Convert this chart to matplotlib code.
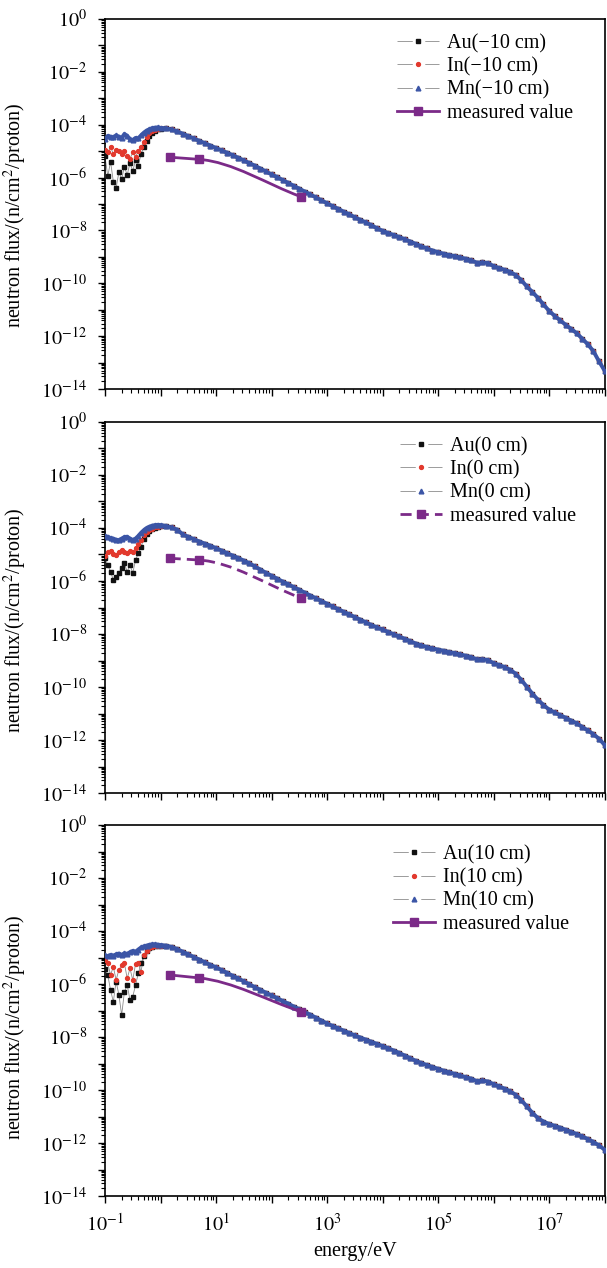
import numpy as np
import matplotlib
matplotlib.use("Agg")
import matplotlib.pyplot as plt
from matplotlib.path import Path
from matplotlib.patches import PathPatch
from matplotlib.lines import Line2D
from matplotlib.legend_handler import HandlerTuple
from matplotlib.ticker import LogLocator, FuncFormatter, NullFormatter

plt.rcParams['font.family'] = ['Liberation Serif', 'DejaVu Serif']
plt.rcParams['mathtext.fontset'] = 'stix'

# ---------------- data (log10 values) ----------------
# log10(energy / eV) of the low-energy (resonance) region
log_e_low = [-1.00, -0.95, -0.90, -0.85, -0.80, -0.75, -0.70, -0.65, -0.60, -0.55, -0.50,
             -0.45, -0.40, -0.35, -0.30, -0.25, -0.20, -0.15, -0.10, -0.05, 0.00]
# log10(energy / eV) above 1 eV
log_e_high = [0.1, 0.2, 0.3, 0.4, 0.5, 0.6, 0.7, 0.8, 0.9, 1.0,
              1.1, 1.2, 1.3, 1.4, 1.5, 1.6, 1.7, 1.8, 1.9, 2.0,
              2.1, 2.2, 2.3, 2.4, 2.5, 2.6, 2.7, 2.8, 2.9, 3.0,
              3.1, 3.2, 3.3, 3.4, 3.5, 3.6, 3.7, 3.8, 3.9, 4.0,
              4.1, 4.2, 4.3, 4.4, 4.5, 4.6, 4.7, 4.8, 4.9, 5.0,
              5.1, 5.2, 5.3, 5.4, 5.5, 5.6, 5.7, 5.8, 5.9, 6.0,
              6.1, 6.2, 6.3, 6.4, 6.5, 6.6, 6.7, 6.8, 6.9, 7.0,
              7.1, 7.2, 7.3, 7.4, 7.5, 7.6, 7.7, 7.8, 7.9, 8.0]

# panel 1 : -10 cm   (log10 flux)
au_low_m10 = [-5.20, -5.95, -5.40, -6.15, -6.40, -5.80, -6.05, -5.60, -5.90, -5.45, -5.75,
              -5.35, -5.55, -5.10, -4.85, -4.62, -4.42, -4.30, -4.22, -4.17, -4.15]
in_low_m10 = [-4.95, -5.05, -4.85, -5.10, -4.95, -5.00, -5.12, -4.98, -5.20, -5.28, -5.05,
              -5.22, -5.00, -4.85, -4.65, -4.45, -4.33, -4.25, -4.20, -4.16, -4.14]
mn_low_m10 = [-4.55, -4.42, -4.45, -4.48, -4.40, -4.45, -4.50, -4.35, -4.42, -4.55, -4.58,
              -4.50, -4.52, -4.40, -4.30, -4.22, -4.17, -4.13, -4.11, -4.10, -4.12]
tail_m10 = [-4.13, -4.18, -4.25, -4.34, -4.43, -4.52, -4.61, -4.70, -4.79, -4.88,
            -4.97, -5.06, -5.15, -5.25, -5.35, -5.45, -5.55, -5.66, -5.77, -5.88,
            -5.98, -6.09, -6.20, -6.31, -6.42, -6.53, -6.64, -6.75, -6.86, -6.97,
            -7.08, -7.18, -7.29, -7.39, -7.50, -7.60, -7.70, -7.80, -7.92, -8.01,
            -8.10, -8.17, -8.25, -8.33, -8.42, -8.51, -8.60, -8.68, -8.76, -8.82,
            -8.88, -8.93, -8.97, -9.02, -9.07, -9.13, -9.22, -9.21, -9.23, -9.35,
            -9.42, -9.49, -9.57, -9.69, -9.88, -10.12, -10.33, -10.55, -10.80, -11.04,
            -11.23, -11.40, -11.57, -11.73, -11.89, -12.10, -12.31, -12.57, -12.95, -13.30]

# panel 2 : 0 cm
au_low_0 = [-5.15, -5.40, -5.65, -5.96, -5.85, -5.70, -5.52, -5.33, -5.65, -5.40, -5.70,
            -5.21, -4.95, -4.70, -4.42, -4.22, -4.12, -4.05, -4.00, -3.96, -3.94]
in_low_0 = [-5.05, -4.92, -4.88, -4.98, -5.02, -4.90, -4.83, -4.92, -4.96, -4.85, -4.92,
            -4.77, -4.60, -4.45, -4.26, -4.15, -4.08, -4.02, -3.98, -3.95, -3.93]
mn_low_0 = [-4.30, -4.33, -4.38, -4.40, -4.44, -4.46, -4.40, -4.34, -4.33, -4.40, -4.45,
            -4.40, -4.30, -4.18, -4.08, -4.00, -3.95, -3.91, -3.89, -3.88, -3.89]
tail_0 = [-3.92, -3.98, -4.06, -4.24, -4.33, -4.42, -4.51, -4.59, -4.67, -4.76,
          -4.85, -4.95, -5.04, -5.13, -5.23, -5.33, -5.45, -5.57, -5.69, -5.80,
          -5.91, -6.02, -6.12, -6.23, -6.33, -6.44, -6.55, -6.65, -6.75, -6.86,
          -6.96, -7.06, -7.16, -7.26, -7.36, -7.46, -7.56, -7.66, -7.75, -7.83,
          -7.92, -8.01, -8.09, -8.18, -8.27, -8.36, -8.43, -8.49, -8.54, -8.59,
          -8.63, -8.68, -8.72, -8.77, -8.82, -8.87, -8.96, -8.95, -8.98, -9.10,
          -9.17, -9.25, -9.35, -9.50, -9.73, -9.99, -10.25, -10.48, -10.68, -10.85,
          -10.96, -11.06, -11.16, -11.27, -11.37, -11.51, -11.64, -11.78, -11.95, -12.18]

# panel 3 : +10 cm
au_low_p10 = [-5.45, -5.66, -6.23, -6.67, -5.91, -6.40, -7.17, -6.29, -6.04, -6.60, -6.48,
              -6.04, -5.60, -5.22, -4.95, -4.75, -4.65, -4.59, -4.56, -4.55, -4.55]
in_low_p10 = [-5.10, -5.22, -5.66, -5.35, -5.85, -5.47, -5.30, -5.22, -5.79, -5.41, -5.85,
              -5.25, -5.22, -5.53, -4.90, -4.75, -4.65, -4.60, -4.57, -4.55, -4.55]
mn_low_p10 = [-4.92, -4.95, -4.90, -4.93, -4.88, -4.85, -4.90, -4.84, -4.86, -4.80, -4.75,
              -4.78, -4.70, -4.62, -4.58, -4.55, -4.52, -4.50, -4.50, -4.51, -4.53]
tail_p10 = [-4.55, -4.60, -4.68, -4.78, -4.88, -4.98, -5.08, -5.18, -5.28, -5.37,
            -5.47, -5.58, -5.69, -5.79, -5.90, -6.01, -6.12, -6.22, -6.33, -6.43,
            -6.53, -6.64, -6.74, -6.85, -6.95, -7.06, -7.16, -7.27, -7.38, -7.49,
            -7.58, -7.67, -7.76, -7.85, -7.94, -8.02, -8.10, -8.18, -8.26, -8.34,
            -8.42, -8.51, -8.60, -8.70, -8.80, -8.90, -8.98, -9.06, -9.13, -9.20,
            -9.27, -9.33, -9.39, -9.45, -9.52, -9.57, -9.67, -9.64, -9.68, -9.78,
            -9.86, -9.95, -10.05, -10.18, -10.38, -10.62, -10.86, -11.06, -11.19, -11.28,
            -11.35, -11.42, -11.50, -11.58, -11.66, -11.75, -11.85, -11.96, -12.09, -12.25]

# measured values (activation foils: In 1.46 eV, Au 4.9 eV, Mn 337 eV)
measured_e = [1.46, 4.9, 337.0]
measured_m10 = [5.9e-6, 4.9e-6, 1.9e-7]
measured_0 = [7.2e-6, 6.2e-6, 2.3e-7]
measured_p10 = [2.2e-6, 1.7e-6, 9.1e-8]

positions = ["\u221210 cm", "0 cm", "10 cm"]
panels = [
    (au_low_m10, in_low_m10, mn_low_m10, tail_m10, measured_m10, '-'),
    (au_low_0, in_low_0, mn_low_0, tail_0, measured_0, (0, (4.0, 2.2))),
    (au_low_p10, in_low_p10, mn_low_p10, tail_p10, measured_p10, '-'),
]

# ---------------- style ----------------
C_AU = '#111111'
C_IN = '#e2392d'
C_MN = '#3b55a6'
C_MEAS = '#7b2a88'
C_LINE = '#8c8c8c'

W, H = 607, 1268
fig = plt.figure(figsize=(W / 100, H / 100), dpi=100)
ax_px = [(19, 389), (422, 793), (825, 1196)]
x0, x1 = 105, 604.5
legend_anchor = [(0.584, 0.960), (0.590, 0.960), (0.576, 0.946)]
ylabel_y = [0.47, 0.465, 0.455]


def hermite_path(xs, ys):
    lx = np.log10(xs)
    ly = np.log10(ys)
    verts = [(lx[0], ly[0])]
    codes = [Path.MOVETO]
    for i in range(len(lx) - 1):
        dx = lx[i + 1] - lx[i]
        s_end = (ly[i + 1] - ly[i]) / dx
        s_start = (ly[i] - ly[i - 1]) / (lx[i] - lx[i - 1]) if i > 0 else s_end
        verts += [(lx[i] + dx / 3, ly[i] + s_start * dx / 3),
                  (lx[i + 1] - dx / 3, ly[i + 1] - s_end * dx / 3),
                  (lx[i + 1], ly[i + 1])]
        codes += [Path.CURVE4] * 3
    verts = [(10 ** a, 10 ** b) for a, b in verts]
    return Path(verts, codes)


def xfmt(v, p):
    k = int(round(np.log10(v)))
    return r'$10^{%d}$' % k if k % 2 != 0 else ''


def yfmt(v, p):
    k = int(round(np.log10(v)))
    return r'$10^{%d}$' % k if k % 2 == 0 else ''


e_full = 10 ** np.array(log_e_low + log_e_high)

for i, (au_l, in_l, mn_l, tail, meas, meas_ls) in enumerate(panels):
    top, bot = ax_px[i]
    ax = fig.add_axes([x0 / W, 1 - bot / H, (x1 - x0) / W, (bot - top) / H])
    au = 10 ** np.array(au_l + tail)
    inn = 10 ** np.array(in_l + tail)
    mn = 10 ** np.array(mn_l + tail)

    # thin connecting lines
    for f in (au, inn, mn):
        ax.plot(e_full, f, color=C_LINE, lw=0.6, zorder=2)
    ax.plot(e_full, au, ls='none', marker='s', ms=2.4, mfc=C_AU, mec=C_AU, zorder=3)
    ax.plot(e_full, inn, ls='none', marker='o', ms=2.8, mfc=C_IN, mec=C_IN, zorder=4)
    ax.plot(e_full, mn, color=C_MN, lw=2.8, zorder=5, solid_capstyle='round',
            solid_joinstyle='round')
    ax.plot(e_full, mn, ls='none', marker='^', ms=3.4, mfc=C_MN, mec=C_MN, zorder=6)

    # measured
    patch = PathPatch(hermite_path(measured_e, meas), fill=False, edgecolor=C_MEAS,
                      lw=2.0, linestyle=meas_ls, zorder=7, transform=ax.transData)
    ax.add_patch(patch)
    ax.plot(measured_e, meas, ls='none', marker='s', ms=6, mfc=C_MEAS, mec=C_MEAS, zorder=8)

    ax.set_xscale('log')
    ax.set_yscale('log')
    ax.set_xlim(1e-1, 1e8)
    ax.set_ylim(1e-14, 1e0)

    ax.xaxis.set_major_locator(LogLocator(base=10, numticks=30))
    ax.xaxis.set_minor_locator(LogLocator(base=10, subs=np.arange(2, 10), numticks=30))
    ax.yaxis.set_major_locator(LogLocator(base=10, numticks=30))
    ax.yaxis.set_minor_locator(LogLocator(base=10, subs=np.arange(2, 10), numticks=30))
    ax.xaxis.set_minor_formatter(NullFormatter())
    ax.yaxis.set_minor_formatter(NullFormatter())
    ax.yaxis.set_major_formatter(FuncFormatter(yfmt))
    if i == 2:
        ax.xaxis.set_major_formatter(FuncFormatter(xfmt))
        ax.set_xlabel('energy/eV', fontsize=14.5)
        ax.xaxis.set_label_coords(0.5, -0.125)
    else:
        ax.xaxis.set_major_formatter(NullFormatter())
    ax.tick_params(which='major', length=5, width=1.0, labelsize=14.5)
    ax.tick_params(axis='y', which='major', pad=8)
    ax.tick_params(axis='x', which='major', pad=8)
    ax.tick_params(which='minor', length=2.8, width=0.8)
    for s in ax.spines.values():
        s.set_linewidth(1.2)
    ax.set_ylabel('neutron flux/(n/cm$^2$/proton)', fontsize=14.5)
    ax.yaxis.set_label_coords(-0.153, ylabel_y[i])

    pos = positions[i]
    dash = (0, (11 / 0.6, 9 / 0.6))

    def series_handle(marker, ms, c):
        return (Line2D([], [], color=C_LINE, lw=0.6, ls=dash),
                Line2D([], [], ls='none', marker=marker, ms=ms, mfc=c, mec=c))

    handles = [
        series_handle('s', 2.4, C_AU),
        series_handle('o', 2.8, C_IN),
        series_handle('^', 3.4, C_MN),
        Line2D([], [], color=C_MEAS, lw=2.0, ls=meas_ls, marker='s', ms=6,
               mfc=C_MEAS, mec=C_MEAS),
    ]
    labels = ['Au(%s)' % pos, 'In(%s)' % pos, 'Mn(%s)' % pos, 'measured value']
    ax.legend(handles, labels, loc='upper left', bbox_to_anchor=legend_anchor[i],
              frameon=False, fontsize=14.5, handlelength=2.1, handletextpad=0.4,
              labelspacing=0.2, borderpad=0, borderaxespad=0, numpoints=1,
              handler_map={tuple: HandlerTuple(ndivide=1, pad=0)})

fig.savefig('out.png', dpi=100)
